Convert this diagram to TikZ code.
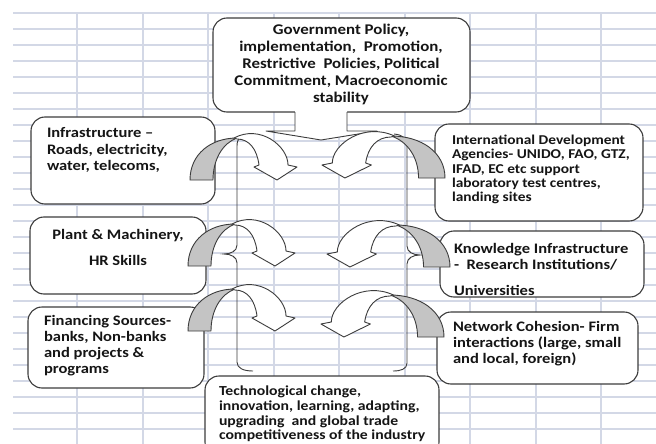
\documentclass[tikz,border=0pt]{standalone}
\usepackage{fontspec}
\setmainfont{Carlito}[FakeStretch=1.14]
\definecolor{gridblue}{HTML}{D3D8E6}
\definecolor{edge}{HTML}{3C3C3C}
\definecolor{ink}{HTML}{151515}
\definecolor{backgray}{HTML}{C4C4C4}
\tikzset{
  gridline/.style={draw=gridblue,line width=1.1pt},
  box/.style={draw=edge,fill=white,line width=1.1pt,rounded corners=14pt,inner sep=0pt,outer sep=0pt},
  txt/.style={inner sep=0pt,outer sep=0pt,text=ink},
  band/.style={draw=edge,line width=0.9pt,fill=white,line join=round},
  bandback/.style={draw=edge,line width=0.9pt,fill=backgray,line join=round},
  bracket/.style={draw=edge,line width=0.9pt},
  % curved block arrow: shaded rising tail, white band turning down into the head
  curvarrow/.pic={
    \path[bandback] (0,0) .. controls (0,-26) and (21,-42) .. (47,-42)
      .. controls (33,-37) and (23,-21) .. (23,0) -- cycle;
    \path[band] (44,-42) .. controls (70,-56) and (98,-34) .. (98,-15)
      -- (107,-13) -- (87,0) -- (64,-13) -- (69,-15)
      .. controls (67,-31) and (59,-41) .. (47,-41) -- cycle;
  }
}
\begin{document}
\begin{tikzpicture}[x=1pt,y=-1pt]
\useasboundingbox (0,0) rectangle (656,444);
\clip (0,0) rectangle (656,444);
\fill[white] (0,0) rectangle (656,444);

% sheet grid
\foreach \i in {0,...,26}
  \draw[gridline] (13,13+16*\i) -- (656,13+16*\i);
\foreach \x in {77,143,208,274,339,405,470,536,601}
  \draw[gridline] (\x,13) -- (\x,444);

% boxes
\node[box,minimum width=257,minimum height=94] (gov) at (341.5,65) {};
\node[box,minimum width=184,minimum height=87] (infra) at (123,160.5) {};
\node[box,minimum width=208,minimum height=97] (intl) at (539,172.5) {};
\node[box,minimum width=176,minimum height=77] (plant) at (118,255.5) {};
\node[box,minimum width=204,minimum height=66] (know) at (542,264) {};
\node[box,minimum width=176,minimum height=81] (fin) at (116,347.5) {};
\node[box,minimum width=201,minimum height=72] (net) at (537.5,348) {};
\node[box,minimum width=234,minimum height=80] (tech) at (322,416) {};

% downward callout under the policy box
\fill[white] (295,108) -- (295,131) -- (266,131) -- (321,140) -- (377,131) -- (347,131) -- (347,108) -- cycle;
\draw[bracket,line join=round] (295,112) -- (295,131) -- (266,131) -- (321,140) -- (377,131) -- (347,131) -- (347,112);

% braces gathering the inputs on each side
\draw[bracket] (250,134) .. controls (241,135) and (237,138) .. (237,146)
  -- (237,245) .. controls (237,251) and (231,254) .. (224,254)
  .. controls (231,254) and (237,257) .. (237,263)
  -- (237,362) .. controls (237,368) and (243,371) .. (253,371);
\draw[bracket] (394,134) .. controls (403,135) and (407,138) .. (407,146)
  -- (407,246) .. controls (407,252) and (413,255) .. (420,255)
  .. controls (413,255) and (407,258) .. (407,264)
  -- (407,363) .. controls (407,369) and (401,371) .. (393,371);

% curved arrows, left column
\pic at (190,180) {curvarrow};
\pic at (188,266) {curvarrow};
\pic at (188,331) {curvarrow};
% curved arrows, right column
\pic[xscale=-1.15] at (445,178) {curvarrow};
\pic[xscale=-1.15] at (450,267) {curvarrow};
\pic[xscale=-1.15] at (444,337) {curvarrow};

% texts
\node[txt,align=center,font=\bfseries\fontsize{14.8}{17}\selectfont] (govtext) at (341,64)
  {Government Policy,\\implementation,\ \ Promotion,\\Restrictive\ \ Policies, Political\\Commitment, Macroeconomic\\stability};
\node[txt,align=left,anchor=west,font=\bfseries\fontsize{14.5}{16.5}\selectfont] (infratext) at (47,150)
  {Infrastructure --\\Roads, electricity,\\water, telecoms,};
\node[txt,align=left,anchor=west,font=\bfseries\fontsize{13.5}{14.3}\selectfont] (intltext) at (452,169.5)
  {International Development\\Agencies- UNIDO, FAO, GTZ,\\IFAD, EC etc support\\laboratory test centres,\\landing sites};
\node[txt,align=center,font=\bfseries\fontsize{14.5}{16.5}\selectfont] (planttext) at (118,247)
  {Plant \& Machinery,\\[9.5pt]HR Skills};
\node[txt,align=left,anchor=west,font=\bfseries\fontsize{14.5}{16}\selectfont] (knowtext) at (454,269)
  {Knowledge Infrastructure\\-\ \ Research Institutions/\\[10pt]Universities};
\node[txt,align=left,anchor=west,font=\bfseries\fontsize{14.5}{16}\selectfont] (fintext) at (44,346)
  {Financing Sources-\\banks, Non-banks\\and projects \&\\programs};
\node[txt,align=left,anchor=west,font=\bfseries\fontsize{14.5}{16}\selectfont] (nettext) at (453,344)
  {Network Cohesion- Firm\\interactions (large, small\\and local, foreign)};
\node[txt,align=left,anchor=west,font=\bfseries\fontsize{13.8}{14.7}\selectfont] (techtext) at (219,414)
  {Technological change,\\innovation, learning, adapting,\\upgrading\ \ and global trade\\competitiveness of the industry};
\end{tikzpicture}
\end{document}
